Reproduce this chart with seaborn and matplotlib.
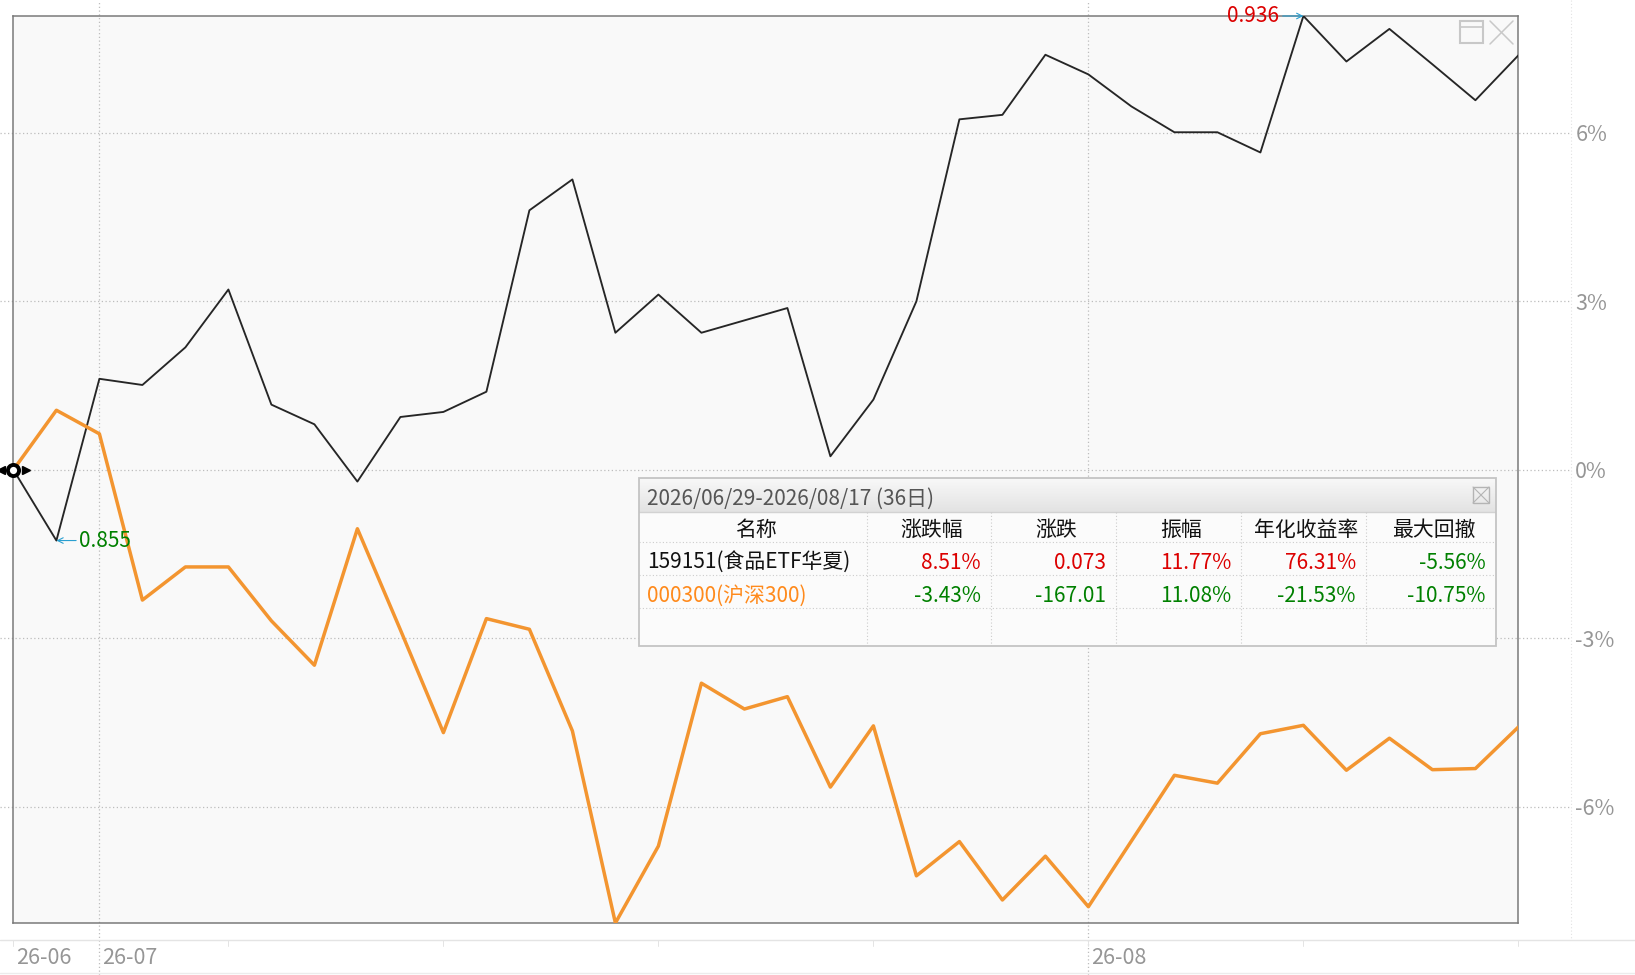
import numpy as np
import pandas as pd
import matplotlib
matplotlib.use('Agg')
import matplotlib.pyplot as plt
import matplotlib.transforms as mtransforms
from matplotlib.patches import Rectangle
from matplotlib.colors import LinearSegmentedColormap
import seaborn as sns

# ---------------- data ----------------
dates = ['2026-06-29', '2026-06-30',
         '2026-07-01', '2026-07-02', '2026-07-03', '2026-07-06', '2026-07-07',
         '2026-07-08', '2026-07-09', '2026-07-10', '2026-07-13', '2026-07-14',
         '2026-07-15', '2026-07-16', '2026-07-17', '2026-07-20', '2026-07-21',
         '2026-07-22', '2026-07-23', '2026-07-24', '2026-07-27', '2026-07-28',
         '2026-07-29', '2026-07-30', '2026-07-31',
         '2026-08-03', '2026-08-04', '2026-08-05', '2026-08-06', '2026-08-07',
         '2026-08-10', '2026-08-11', '2026-08-12', '2026-08-13', '2026-08-14',
         '2026-08-17']
etf_pct = [0.00, -1.26, 1.62, 1.51, 2.18, 3.21, 1.16, 0.81, -0.21, 0.94,
           1.03, 1.39, 4.62, 5.17, 2.44, 3.12, 2.44, 2.66, 2.88, 0.24,
           1.25, 3.00, 6.24, 6.32, 7.39, 7.04, 6.47, 6.01, 6.01, 5.65,
           8.08, 7.27, 7.85, 7.22, 6.58, 7.38]
hs300_pct = [0.00, 1.06, 0.64, -2.32, -1.73, -1.73, -2.69, -3.48, -1.05, -2.85,
             -4.68, -2.65, -2.84, -4.65, -8.07, -6.70, -3.80, -4.26, -4.04, -5.65,
             -4.56, -7.23, -6.62, -7.66, -6.88, -7.78, -6.61, -5.44, -5.58, -4.70,
             -4.55, -5.35, -4.78, -5.34, -5.32, -4.58]
month_labels = ['26-06', '26-07', '26-08']
y_ticks = [-6, -3, 0, 3, 6]
etf_high_label = '0.936'
etf_low_label = '0.855'

table_title = '2026/06/29-2026/08/17 (36日)'
table_header = ['名称', '涨跌幅', '涨跌', '振幅', '年化收益率', '最大回撤']
etf_name = '159151(食品ETF华夏)'
hs300_name = '000300(沪深300)'
etf_stats = ['8.51%', '0.073', '11.77%', '76.31%', '-5.56%']
hs300_stats = ['-3.43%', '-167.01', '11.08%', '-21.53%', '-10.75%']

# ---------------- style ----------------
sns.set_style('white')
plt.rcParams['font.family'] = ['Noto Sans CJK SC', 'DejaVu Sans']

RED = '#dc0000'
GREEN = '#008000'
BLACK_LINE = '#262626'
ORANGE = '#f39530'
AXIS_TXT = '#969696'
GRID = '#bdbdbd'

W, H = 1635, 975
fig = plt.figure(figsize=(W / 100, H / 100), dpi=100)
fig.patch.set_facecolor('white')


def fx(x):
    return x / W


def fy(y):
    return 1 - y / H


L, R, T, B = 13.4, 1518.4, 16.0, 923.0
ax = fig.add_axes([fx(L), fy(B), (R - L) / W, (B - T) / H])
ax.set_facecolor('#f9f9f9')

df = pd.DataFrame({'idx': np.arange(len(dates)), 'date': dates,
                   'etf': etf_pct, 'hs300': hs300_pct})

sns.lineplot(data=df, x='idx', y='etf', ax=ax, color=BLACK_LINE,
             linewidth=1.35, zorder=3)
sns.lineplot(data=df, x='idx', y='hs300', ax=ax, color=ORANGE,
             linewidth=2.5, zorder=4)

n = len(df)
ymin = min(df['etf'].min(), df['hs300'].min())
ymax = max(df['etf'].max(), df['hs300'].max())
ax.set_xlim(0, n - 1)
ax.set_ylim(ymin, ymax)
ax.set_xlabel('')
ax.set_ylabel('')

for s in ax.spines.values():
    s.set_visible(True)
    s.set_color('#7a7a7a')
    s.set_linewidth(1.1)

TICK_FS = 15.5
# y axis on the right
ax.yaxis.tick_right()
ax.set_yticks(y_ticks)
ax.set_yticklabels([f'{v}%' for v in y_ticks])
ax.tick_params(axis='y', length=0, pad=41, labelsize=TICK_FS, labelcolor=AXIS_TXT)
for lbl in ax.get_yticklabels():
    lbl.set_ha('left')

# x ticks at month starts
months = pd.to_datetime(df['date']).dt.to_period('M')
month_pos = [int(df.index[months == m][0]) for m in months.unique()]
ax.set_xticks(month_pos)
ax.set_xticklabels(month_labels)
ax.tick_params(axis='x', length=0, pad=17.5, labelsize=TICK_FS, labelcolor=AXIS_TXT)
shift = mtransforms.ScaledTranslation(3 / 100, 0, fig.dpi_scale_trans)
for lbl in ax.get_xticklabels():
    lbl.set_ha('left')
    lbl.set_transform(lbl.get_transform() + shift)

# horizontal grid lines extending to the label column
span = R - L
for v in y_ticks:
    ax.axhline(v, xmin=-L / span, xmax=(1570 - L) / span, color=GRID,
               lw=0.9, ls=(0, (1, 2)), clip_on=False, zorder=1)

# vertical month lines
hspan = B - T
for p in month_pos[1:]:
    ax.axvline(p, ymin=-(H - B) / hspan, ymax=B / hspan, color=GRID,
               lw=0.9, ls=(0, (1, 2)), clip_on=False, zorder=1)

# small ticks on the date strip every 5 trading days
for p in range(0, n, 5):
    ax.axvline(p, ymin=-(946 - B) / hspan, ymax=-(940 - B) / hspan,
               color='#e4e4e4', lw=0.7, clip_on=False, zorder=1)

# annotations for high / low
arrow_kw = dict(arrowstyle='->', color='#2a9fd0', lw=0.8, shrinkA=0, shrinkB=0,
                mutation_scale=10)
imax = int(df['etf'].idxmax())
imin = int(df['etf'].idxmin())
ax.annotate(etf_high_label, xy=(imax, df['etf'][imax]), xytext=(-24, 0),
            textcoords='offset pixels', ha='right', va='center', color=RED,
            fontsize=15, arrowprops=arrow_kw, annotation_clip=False, zorder=6)
ax.annotate(etf_low_label, xy=(imin, df['etf'][imin]), xytext=(23, 0),
            textcoords='offset pixels', ha='left', va='center', color=GREEN,
            fontsize=15, arrowprops=arrow_kw, annotation_clip=False, zorder=6)

# start marker
x0, y0 = df['idx'][0], df['etf'][0]
ax.plot([x0], [y0], marker='o', ms=8, mfc='white', mec='black', mew=2.8,
        clip_on=False, zorder=8)
tl = mtransforms.offset_copy(ax.transData, fig=fig, x=-12.5, y=0, units='dots')
tr = mtransforms.offset_copy(ax.transData, fig=fig, x=13, y=0, units='dots')
ax.plot([x0], [y0], marker='<', ms=6, color='black', transform=tl,
        clip_on=False, zorder=8)
ax.plot([x0], [y0], marker='>', ms=6, color='black', transform=tr,
        clip_on=False, zorder=8)

# ---------------- overlay decorations (pixel coords) ----------------
ov = fig.add_axes([0, 0, 1, 1], zorder=5)
ov.set_xlim(0, W)
ov.set_ylim(H, 0)
ov.axis('off')
ov.patch.set_alpha(0)
ov.plot([0, W], [940, 940], color='#e4e4e4', lw=1)
ov.plot([0, W], [973, 973], color='#ececec', lw=1)
ov.plot([1571, 1571], [0, 940], color='#e2e2e2', lw=0.8, ls=(0, (1, 2)))
# window icons
ic = '#c8c8c8'
ov.add_patch(Rectangle((1460, 21), 23, 22, fill=False, ec=ic, lw=1.5))
ov.plot([1460, 1483], [27, 27], color=ic, lw=1.2)
ov.plot([1490, 1513], [21, 44], color=ic, lw=1.1)
ov.plot([1490, 1513], [44, 21], color=ic, lw=1.1)

# ---------------- statistics table ----------------
tx0, tx1, ty0, ty1 = 639, 1496, 478, 646
tax = fig.add_axes([fx(tx0), fy(ty1), (tx1 - tx0) / W, (ty1 - ty0) / H], zorder=10)
tax.axis('off')
tax.add_patch(Rectangle((tx0, ty0), tx1 - tx0, ty1 - ty0, fc='#fbfbfb',
                        ec='none', zorder=0))
grad = np.linspace(0, 1, 64).reshape(-1, 1)
cmap = LinearSegmentedColormap.from_list('hdr', ['#f8f8f8', '#e3e3e3'])
tax.imshow(grad, extent=(tx0, tx1, 512, ty0), aspect='auto', cmap=cmap,
           zorder=1, interpolation='bilinear')
tax.set_xlim(tx0, tx1)
tax.set_ylim(ty1, ty0)
tax.add_patch(Rectangle((tx0, ty0), tx1 - tx0, ty1 - ty0, fill=False,
                        ec='#c4c4c4', lw=1.3, zorder=5, clip_on=False))
tax.plot([tx0, tx1], [512, 512], color='#d2d2d2', lw=1, zorder=4)
for yy in [542, 575, 608]:
    tax.plot([tx0, tx1], [yy, yy], color='#cccccc', lw=0.8, ls=(0, (1, 2)), zorder=4)
col_edges = [tx0, 867, 991, 1116, 1241, 1366, tx1]
for xx in col_edges[1:-1]:
    tax.plot([xx, xx], [512, ty1], color='#cccccc', lw=0.8, ls=(0, (1, 2)), zorder=4)

fs = 15
tax.text(647, 499, table_title, ha='left', va='center', fontsize=fs,
         color='#555555', zorder=6)
for j, h in enumerate(table_header):
    cx = (col_edges[j] + col_edges[j + 1]) / 2
    tax.text(cx + 3, 530, h, ha='center', va='center', fontsize=fs,
             color='#111111', zorder=6)

rows = [(etf_name, etf_stats, '#111111', 563), (hs300_name, hs300_stats, '#ff8a1c', 596)]
for name, stats, ncol, yy in rows:
    tax.text(647, yy, name, ha='left', va='center', fontsize=fs, color=ncol, zorder=6)
    row_up = not stats[0].startswith('-')
    for j, v in enumerate(stats):
        c = GREEN if (v.startswith('-') or not row_up) else RED
        tax.text(col_edges[j + 2] - 10, yy, v, ha='right', va='center',
                 fontsize=fs, color=c, zorder=6)

# close icon in table
tax.add_patch(Rectangle((1473, 487), 16, 16, fill=False, ec='#b4b4b4', lw=1, zorder=6))
tax.plot([1473, 1489], [487, 503], color='#b4b4b4', lw=0.8, zorder=6)
tax.plot([1473, 1489], [503, 487], color='#b4b4b4', lw=0.8, zorder=6)

fig.savefig('out.png', dpi=100, facecolor='white')
